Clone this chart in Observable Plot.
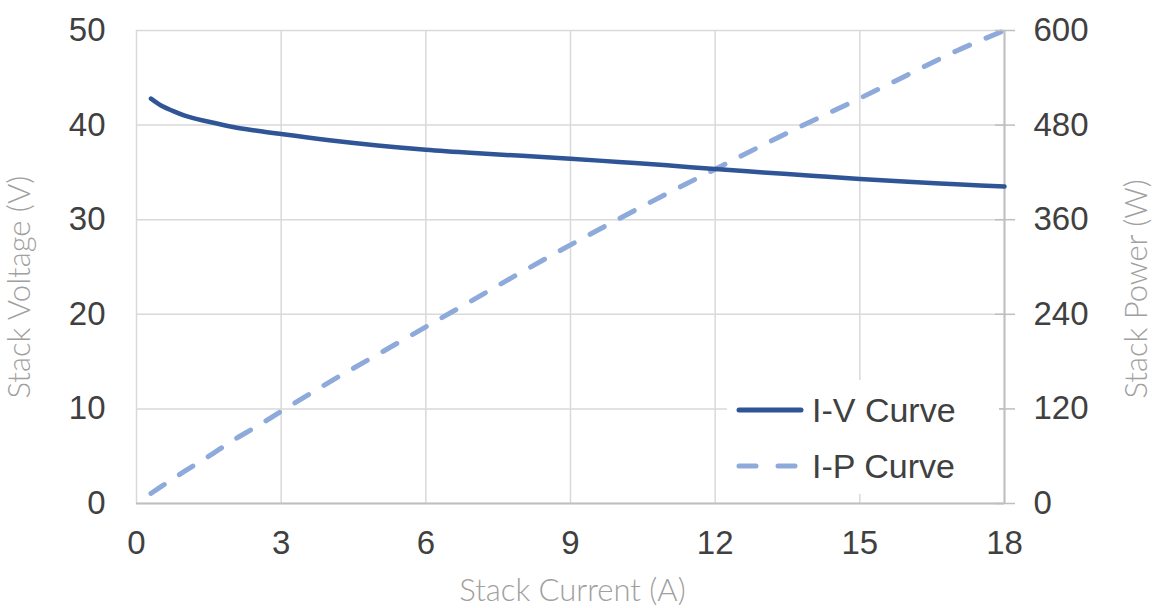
<!DOCTYPE html>
<html>
<head>
<meta charset="utf-8">
<script src="https://cdn.jsdelivr.net/npm/d3@7"></script>
<script src="https://cdn.jsdelivr.net/npm/@observablehq/plot@0.6"></script>
<style>
  html, body { margin: 0; padding: 0; background: #fff; }
  #wrap { position: relative; width: 1161px; height: 608px; }
  #legend { position: absolute; left: 727px; top: 380px; width: 272px; height: 114px; background: #fff;
    font-family: "Liberation Sans", Arial, sans-serif; font-size: 34px; color: #404040; }
  .row { position: absolute; left: 0; height: 40px; display: flex; align-items: center; }
  .row svg { margin-left: 9px; margin-right: 8px; }
</style>
</head>
<body>
<div id="wrap"></div>
<script>
// Data
const current = [0.3, 0.5, 0.75, 1, 1.5, 2, 2.5, 3, 4, 5, 6, 7, 8, 9, 10, 11, 12, 13, 14, 15, 16, 17, 18];
const voltage = [42.8, 42.1, 41.5, 41.0, 40.35, 39.8, 39.4, 39.05, 38.4, 37.85, 37.4, 37.05, 36.75, 36.45, 36.1, 35.75, 35.35, 35.0, 34.65, 34.3, 34.0, 33.75, 33.5];
const power   = [12.8, 21, 31, 41, 60, 80, 98, 117, 154, 189, 224, 259, 294, 328, 361, 393, 424, 455, 485, 514, 544, 574, 600];
const xTicks = [0, 3, 6, 9, 12, 15, 18];
const vTicks = [0, 10, 20, 30, 40, 50];
const pTickLabels = [0, 120, 240, 360, 480, 600];
const seriesNames = ["I-V Curve", "I-P Curve"];
const ivColor = "#2f5597";
const ipColor = "#8eaadb";

const ivData = current.map((c, i) => ({current: c, value: voltage[i]}));
// Power is drawn on the voltage scale: 600 W at the top equals 50 V
const ratio = pTickLabels[pTickLabels.length - 1] / vTicks[vTicks.length - 1];
const ipData = current.map((c, i) => ({current: c, value: power[i] / ratio}));

const titleFont = "Lato, 'Open Sans', sans-serif";
const titleColor = "#a0a0a0";

const chart = Plot.plot({
  width: 1161,
  height: 608,
  marginLeft: 136,
  marginRight: 157,
  marginTop: 30,
  marginBottom: 105,
  style: {fontFamily: "'Liberation Sans', Arial, sans-serif", color: "#404040", background: "#fff"},
  x: {domain: [0, 18], ticks: xTicks},
  y: {domain: [0, 50], ticks: vTicks},
  marks: [
    Plot.gridX(xTicks, {stroke: "#d9d9d9", strokeOpacity: 1, strokeWidth: 1.5}),
    Plot.gridY(vTicks, {stroke: "#d9d9d9", strokeOpacity: 1, strokeWidth: 1.5}),
    Plot.ruleY([vTicks[0]], {stroke: "#bfbfbf", strokeWidth: 2}),
    Plot.ruleX([xTicks[xTicks.length - 1]], {stroke: "#bfbfbf", strokeWidth: 2}),
    Plot.lineY(ipData, {x: "current", y: "value", stroke: ipColor, strokeWidth: 5, strokeDasharray: "16,18", strokeLinecap: "round", curve: "monotone-x"}),
    Plot.lineY(ivData, {x: "current", y: "value", stroke: ivColor, strokeWidth: 4.5, strokeLinecap: "round", curve: "monotone-x"}),
    Plot.axisX(xTicks, {anchor: "bottom", tickSize: 0, tickPadding: 27, fontSize: 33, label: null}),
    Plot.axisY(vTicks, {anchor: "left", tickSize: 0, tickPadding: 31, fontSize: 33, label: null}),
    Plot.axisY(vTicks, {anchor: "right", tickSize: 20, dx: -10, tickPadding: 19, fontSize: 33, stroke: "#bfbfbf", strokeWidth: 1.5,
      tickFormat: (d, i) => String(pTickLabels[i]), label: null}),
    Plot.text(["Stack Current (A)"], {frameAnchor: "bottom", dx: 2, dy: 88, lineAnchor: "middle", fontSize: 31, fontWeight: 300, fill: titleColor, fontFamily: titleFont}),
    Plot.text(["Stack Voltage (V)"], {frameAnchor: "bottom-left", dx: -116, dy: -105, rotate: -90, textAnchor: "start", lineAnchor: "middle", fontSize: 31, fontWeight: 300, fill: titleColor, fontFamily: titleFont}),
    Plot.text(["Stack Power (W)"], {frameAnchor: "bottom-right", dx: 133, dy: -105, rotate: -90, textAnchor: "start", lineAnchor: "middle", fontSize: 31, fontWeight: 300, fill: titleColor, fontFamily: titleFont})
  ]
});

const wrap = document.getElementById("wrap");
wrap.appendChild(chart);

// Legend inside the plot area
const legend = document.createElement("div");
legend.id = "legend";
const styles = [{color: ivColor, dash: null}, {color: ipColor, dash: "17,22"}];
seriesNames.forEach((name, i) => {
  const row = document.createElement("div");
  row.className = "row";
  row.style.top = (10 + i * 56) + "px";
  const ns = "http://www.w3.org/2000/svg";
  const svg = document.createElementNS(ns, "svg");
  svg.setAttribute("width", "68");
  svg.setAttribute("height", "10");
  const ln = document.createElementNS(ns, "line");
  ln.setAttribute("x1", "3"); ln.setAttribute("x2", "65");
  ln.setAttribute("y1", "5"); ln.setAttribute("y2", "5");
  ln.setAttribute("stroke", styles[i].color);
  ln.setAttribute("stroke-width", "5");
  ln.setAttribute("stroke-linecap", "round");
  if (styles[i].dash) ln.setAttribute("stroke-dasharray", styles[i].dash);
  svg.appendChild(ln);
  const span = document.createElement("span");
  span.textContent = name;
  row.appendChild(svg);
  row.appendChild(span);
  legend.appendChild(row);
});
wrap.appendChild(legend);
</script>
</body>
</html>
